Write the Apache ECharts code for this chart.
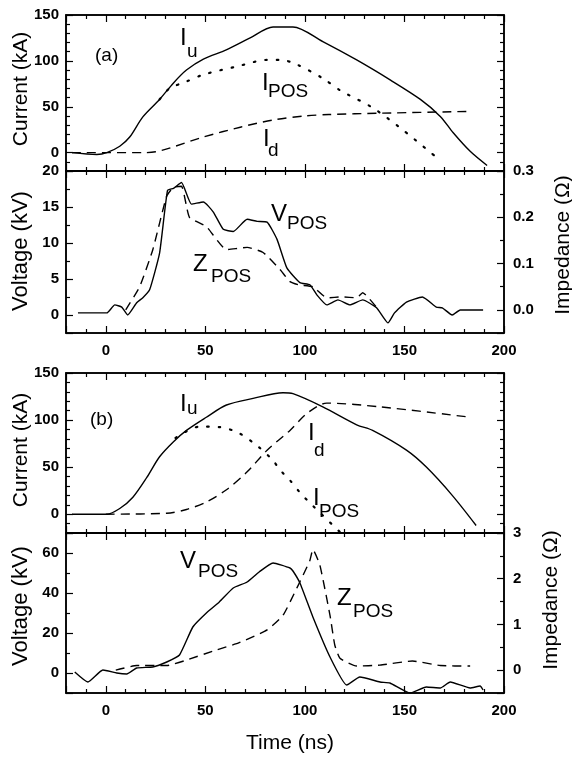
<!DOCTYPE html>
<html><head><meta charset="utf-8">
<script src="https://cdn.jsdelivr.net/npm/echarts@6/dist/echarts.min.js"></script>
<style>html,body{margin:0;padding:0;background:#fff}
#wrap{position:relative;width:572px;height:760px}
#c,#t{position:absolute;left:0;top:0;width:572px;height:760px}
#t{pointer-events:none}</style>
</head><body><div id="wrap"><div id="c"></div><div id="t"></div></div><script>
// ---------- data (time in ns) ----------
// Panel (a) currents, kA
const iuA = [[-17,0],[-4.5,-2],[0.5,0],[7,7],[12,17],[18.6,39],[27,58],[34,76],[40.5,90],[49,102],[60.5,112],[72.5,125],[84,137],[94,137],[109,121],[126,101],[143,79],[158,58],[168,39.5],[174.5,21.6],[183,1.4],[191.5,-14]];
const iposA = [[27,58],[32,70],[40,77],[49,85],[66,94],[81,101],[88,101],[96,96],[109,81],[117.6,68],[134,49],[149,25],[166,-5]];
const idA = [[-17,0],[19,0],[25,1],[32,5],[49,17],[68,28],[85,36],[100,40],[112,41.5],[138,43],[184,45]];
// Panel (a) voltage kV and impedance Ohm
const vposA = [[-14,0.3],[0.5,0.3],[4.5,1.4],[8,1.1],[11,0],[15.5,1.7],[18.6,2.4],[22,3.5],[27,8.6],[31,17.3],[34,17.6],[38,18.4],[43,15.4],[49,15.7],[54,14.3],[59,11.9],[64,11.6],[71,13.3],[76,13],[81,12.9],[86,10.5],[91,6.5],[97.5,4.5],[102.5,4.2],[106,2.8],[111,1.4],[116.6,2.1],[122.6,1.4],[129,2.1],[136,1.0],[141.7,-1.1],[145,0.3],[151,1.8],[159,2.5],[166,1.1],[169,1.0],[174,0],[178,0.7],[189.5,0.7]];
const zposA = [[10,0.0],[17,0.05],[23.6,0.13],[30.5,0.245],[34,0.265],[38,0.267],[42,0.2],[50.5,0.18],[60.6,0.13],[71,0.135],[79,0.124],[87.5,0.087],[92.5,0.061],[97,0.054],[104,0.05],[111,0.026],[118.6,0.028],[126,0.026],[129,0.037],[137,0.0]];
// Panel (b) currents, kA
const iuB = [[-17,0],[0.5,0],[7,6],[13.6,18],[20.6,39],[27,61],[34,77],[40.5,89],[50.5,103],[60.6,116],[74,123],[89,129],[94,128],[109,114],[126,95],[134,89],[151,68],[161,50],[174,20],[186,-12]];
const iposB = [[35,81],[47,93],[57,92.5],[67,86],[77,71],[84,57],[87.5,47],[92.5,36],[97.5,23],[102.5,12],[117.6,-19]];
const idB = [[0,0],[30.6,1],[40.5,5],[50.5,13],[60.6,26],[71,45],[81,68],[92.5,89],[101,107],[111,118],[138,114],[183,103]];
// Panel (b) voltage kV and impedance Ohm
const vposB = [[-15.6,0.5],[-9,-4.5],[-1.5,1.5],[5.5,0],[10.5,-0.5],[15.5,2.5],[23.6,3],[30.6,5.5],[37,9],[43.7,23],[50.5,30],[57,35.5],[64,42.5],[71,45.5],[77,50.5],[84,55],[92.5,52.5],[94,51],[97.5,45],[104,28],[112.6,8],[121,-6],[127.6,-2],[137.7,-4.5],[142.7,-5],[152.8,-10],[161,-7],[168,-7.5],[173,-4.5],[183,-7.5],[188,-6.5],[189.5,-8.5]];
const zposB = [[5,0],[15.5,0.1],[30.6,0.1],[40.5,0.22],[54,0.42],[67,0.6],[81,0.88],[89,1.2],[96,1.8],[102.5,2.4],[104,2.64],[107.5,2.3],[112.6,1.2],[115,0.55],[117.6,0.26],[126,0.09],[137.7,0.11],[154,0.2],[168,0.1],[183,0.09]];

// axis ranges [min, max, majorStep, minorSplit, decimals]
const timeRange = [-20, 200, 50, 5, 0];
const currentRange = [-20, 150, 50, 5, 0];
const voltRangeA = [-2.5, 20, 5, 2, 0];
const impRangeA = [-0.05, 0.3, 0.1, 2, 1];
const voltRangeB = [-10, 70, 20, 2, 0];
const impRangeB = [-0.5, 3, 1, 2, 0];

// ---------- common ----------
const FONT = '"Liberation Sans", Arial, Helvetica, sans-serif';
const BLACK = '#000';
const grids = [
  {top:15, height:156}, {top:171, height:162}, {top:373, height:160}, {top:533, height:160}
];
const gridOpts = (show) => grids.map(g => ({left:66, right:68, top:g.top, height:g.height, show:show, borderColor:BLACK, borderWidth:1.5}));
const yCfg = [
  {L: currentRange, R: null},
  {L: voltRangeA, R: impRangeA},
  {L: currentRange, R: null},
  {L: voltRangeB, R: impRangeB}
];
function splitFor(r){ return Math.round((r[1]-r[0])/r[2]); }
function fmtStep(step, dec){
  return function(v){ const r = v/step; if (Math.abs(r-Math.round(r))>=1e-6) return ''; return Math.abs(v) < 1e-9 ? (0).toFixed(dec) : v.toFixed(dec); };
}

// ---------- chart 1: frames, labels, curves, text ----------
function labelAx(g, pos, r, margin, show){
  return {type:'value', gridIndex:g, position:pos, min:r[0], max:r[1], splitNumber: splitFor(r),
    axisLine:{show:false, onZero:false}, splitLine:{show:false}, axisTick:{show:false},
    axisLabel:{show:show, formatter: fmtStep(r[2], r[4]), margin:margin, fontSize:15, fontWeight:'bold', color:BLACK, fontFamily:FONT}};
}
const xAxis = [], yAxis = [];
for (let g=0; g<4; g++){
  xAxis.push(labelAx(g, 'bottom', timeRange, 10, g===1 || g===3));
  const L = yCfg[g].L, R = yCfg[g].R || yCfg[g].L;
  yAxis.push(labelAx(g, 'left', L, 7, true));
  yAxis.push(labelAx(g, 'right', R, 9, !!yCfg[g].R));
}
const SOLID = 'solid', DASH = [9,6], DOT = [1.5,10];
function line(g, data, type, right, smooth){
  return {type:'line', xAxisIndex:g, yAxisIndex: 2*g + (right?1:0), data:data, showSymbol:false, symbol:'none',
    smooth: smooth,
    lineStyle:{color:BLACK, width: type===DOT ? 2.2 : 1.4, type:type, cap: type===DOT ? 'round' : 'butt'}};
}
const series = [
  line(0, iuA, SOLID, false, 0.3), line(0, iposA, DOT, false, 0.3), line(0, idA, DASH, false, 0.3),
  line(1, vposA, SOLID, false, 0.15), line(1, zposA, DASH, true, 0.15),
  line(2, iuB, SOLID, false, 0.3), line(2, iposB, DOT, false, 0.3), line(2, idB, DASH, false, 0.3),
  line(3, vposB, SOLID, false, 0.15), line(3, zposB, DASH, true, 0.15)
];
function txt(s, x, y, size, opts){
  opts = opts || {};
  return {type:'text', x:x, y:y, rotation: opts.rot || 0, silent:true,
    style:{text:s, fill:BLACK, font: size+'px '+FONT, align: opts.align || 'left', verticalAlign:'middle'}};
}
const M = 24, S = 19, N = 21;
const graphic = [
  txt('(a)', 95, 55.5, 19), txt('(b)', 90, 420, 19),
  txt('I', 180, 38.7, M), txt('u', 187, 51.4, S),
  txt('I', 262, 83.7, M), txt('POS', 268, 91.4, S),
  txt('I', 263, 139.7, M), txt('d', 268, 150.4, S),
  txt('V', 271, 214.7, M), txt('POS', 287, 224, S),
  txt('Z', 193, 264.7, M), txt('POS', 211, 276.4, S),
  txt('I', 180, 404.7, M), txt('u', 187, 408.4, S),
  txt('I', 308, 433.7, M), txt('d', 314, 450.4, S),
  txt('I', 313, 498.7, M), txt('POS', 319, 511.4, S),
  txt('V', 180, 561.7, M), txt('POS', 198, 571.4, S),
  txt('Z', 337, 598.7, M), txt('POS', 353, 611.4, S),
  txt('Current (kA)', 21, 89, N, {rot:Math.PI/2, align:'center'}),
  txt('Voltage (kV)', 21, 251, 22, {rot:Math.PI/2, align:'center'}),
  txt('Current (kA)', 21, 450, N, {rot:Math.PI/2, align:'center'}),
  txt('Voltage (kV)', 21, 606, 22, {rot:Math.PI/2, align:'center'}),
  txt('Impedance (\u03A9)', 563, 245, N, {rot:Math.PI/2, align:'center'}),
  txt('Impedance (\u03A9)', 551, 600, N, {rot:Math.PI/2, align:'center'}),
  txt('Time (ns)', 290, 743, N, {align:'center'})
];
const chart = echarts.init(document.getElementById('c'));
chart.setOption({
  animation:false, backgroundColor:'#fff',
  grid: gridOpts(true),
  xAxis: xAxis, yAxis: yAxis, series: series, graphic: graphic
});

// ---------- chart 2 (overlay): tick marks only, one axis per side ----------
function tickAx(g, pos, r){
  return {type:'value', gridIndex:g, position:pos, min:r[0], max:r[1], splitNumber: splitFor(r),
    axisLine:{show:true, onZero:false, lineStyle:{color:BLACK, width:1.5}}, splitLine:{show:false},
    axisTick:{show:true, inside:true, length:7, lineStyle:{color:BLACK, width:1.2}},
    minorTick:{show:true, splitNumber:r[3], length:4, lineStyle:{color:BLACK, width:1.2}},
    axisLabel:{show:false}};
}
const tx = [], ty = [];
for (let g=0; g<4; g++){
  tx.push(tickAx(g, 'bottom', timeRange));
  tx.push(tickAx(g, 'top', timeRange));
  const L = yCfg[g].L, R = yCfg[g].R || yCfg[g].L;
  ty.push(tickAx(g, 'left', L));
  ty.push(tickAx(g, 'right', R));
}
const ticks = echarts.init(document.getElementById('t'));
ticks.setOption({
  animation:false, backgroundColor:'transparent',
  grid: gridOpts(false),
  xAxis: tx, yAxis: ty,
  series: [{type:'line', data:[], xAxisIndex:0, yAxisIndex:0}]
});
</script></body></html>
